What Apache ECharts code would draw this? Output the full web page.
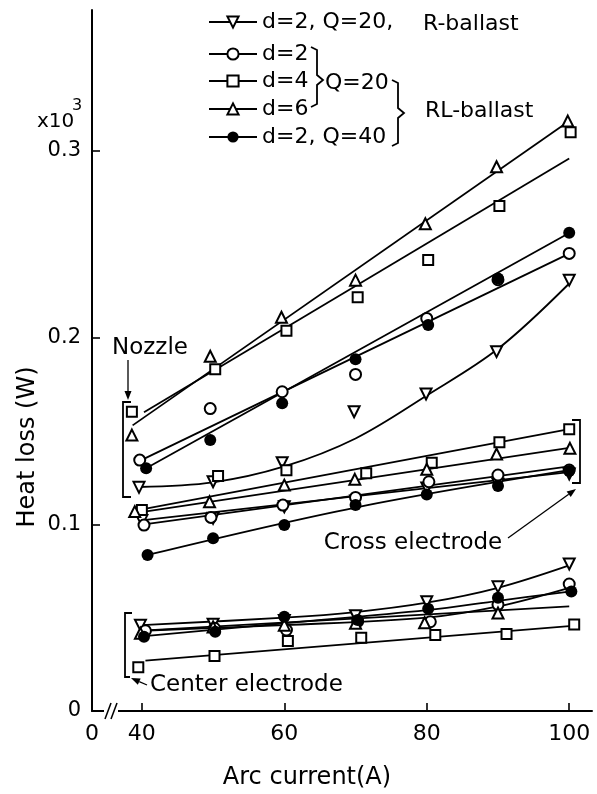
<!DOCTYPE html>
<html>
<head>
<meta charset="utf-8">
<script src="https://cdn.jsdelivr.net/npm/echarts@6/dist/echarts.min.js"></script>
<style>
html,body{margin:0;padding:0;background:#fff;}
#chart{width:597px;height:794px;}
</style>
</head>
<body>
<div id="chart"></div>
<script>
/* tick labels */
const xTickValues = [40, 60, 80, 100];
const yTickValues = [0.1, 0.2, 0.3];

/* Nozzle -- measured points */
const nozR2x = [39.6, 50, 59.7, 69.8, 79.9, 89.8, 100];
const nozR2y = [0.1198, 0.1228, 0.133, 0.1603, 0.1698, 0.1925, 0.2308];
const nozL2x = [39.7, 49.6, 59.7, 70, 80, 90, 100];
const nozL2y = [0.1344, 0.162, 0.171, 0.1803, 0.2103, 0.231, 0.2451];
const nozL4x = [38.6, 50.3, 60.3, 70.3, 80.2, 90.2, 100.2];
const nozL4y = [0.1603, 0.183, 0.2037, 0.2216, 0.2416, 0.2705, 0.310];
const nozL6x = [38.6, 49.6, 59.6, 70, 79.8, 89.8, 99.8];
const nozL6y = [0.1478, 0.190, 0.2109, 0.2308, 0.261, 0.2915, 0.316];
const nozQ40x = [40.6, 49.6, 59.7, 70, 80.2, 90, 100];
const nozQ40y = [0.130, 0.1452, 0.1648, 0.1884, 0.2068, 0.2317, 0.2562];

/* Nozzle -- fitted curves */
const nozR2fitX = [39.6, 50, 60, 70, 80, 90, 100];
const nozR2fitY = [0.120, 0.1225, 0.131, 0.146, 0.169, 0.194, 0.229];
const nozL2fitX = [39.7, 100];
const nozL2fitY = [0.134, 0.245];
const nozL4fitX = [40.3, 100];
const nozL4fitY = [0.160, 0.296];
const nozL6fitX = [38.7, 100];
const nozL6fitY = [0.153, 0.316];
const nozQ40fitX = [40.6, 100];
const nozQ40fitY = [0.130, 0.256];

/* Cross electrode -- measured points */
const crsR2x = [40, 50, 60, 70, 80, 90, 100];
const crsR2y = [0.102, 0.1032, 0.1094, 0.1125, 0.1195, 0.1215, 0.127];
const crsL2x = [40.3, 49.7, 59.8, 70, 80.3, 90, 100];
const crsL2y = [0.0996, 0.1037, 0.1103, 0.1144, 0.1228, 0.1264, 0.1291];
const crsL4x = [40, 50.7, 60.3, 71.5, 80.7, 90.2, 100];
const crsL4y = [0.1077, 0.1259, 0.129, 0.1273, 0.133, 0.1439, 0.1509];
const crsL6x = [39, 49.5, 60, 69.9, 80, 89.8, 100.1];
const crsL6y = [0.1068, 0.1121, 0.121, 0.1241, 0.1295, 0.1377, 0.1407];
const crsQ40x = [40.8, 50, 60, 70, 80, 90, 100];
const crsQ40y = [0.0836, 0.0925, 0.0996, 0.1103, 0.116, 0.1205, 0.1285];

/* Cross electrode -- fitted lines */
const crsR2fitX = [39.6, 100];
const crsR2fitY = [0.102, 0.128];
const crsL2fitX = [40.3, 100];
const crsL2fitY = [0.100, 0.131];
const crsL4fitX = [40, 100];
const crsL4fitY = [0.108, 0.151];
const crsL6fitX = [39, 100];
const crsL6fitY = [0.106, 0.141];
const crsQ40fitX = [40.8, 70, 100];
const crsQ40fitY = [0.0836, 0.109, 0.129];

/* Center electrode -- measured points */
const cenR2x = [39.8, 50, 60, 70, 80, 90, 100];
const cenR2y = [0.046, 0.0465, 0.0485, 0.051, 0.0585, 0.0665, 0.0788];
const cenL2x = [40.5, 50.2, 60.3, 70.3, 80.5, 90, 100];
const cenL2y = [0.043, 0.0443, 0.0434, 0.048, 0.0478, 0.057, 0.068];
const cenL4x = [39.5, 50.2, 60.5, 70.8, 81.2, 91.2, 100.7];
const cenL4y = [0.0234, 0.0295, 0.0375, 0.0393, 0.0407, 0.0412, 0.0464];
const cenL6x = [39.8, 50, 60, 70, 79.7, 90];
const cenL6y = [0.0416, 0.045, 0.046, 0.047, 0.0473, 0.0525];
const cenQ40x = [40.3, 50.3, 60, 70.3, 80.2, 90, 100.3];
const cenQ40y = [0.0398, 0.0425, 0.0505, 0.0487, 0.0548, 0.0607, 0.064];

/* Center electrode -- fitted curves */
const cenR2fitX = [40, 60, 70, 80, 90, 100];
const cenR2fitY = [0.046, 0.050, 0.053, 0.058, 0.066, 0.078];
const cenL2fitX = [40, 60, 80, 90, 100];
const cenL2fitY = [0.043, 0.046, 0.050, 0.056, 0.066];
const cenL4fitX = [40.5, 100];
const cenL4fitY = [0.027, 0.0455];
const cenL6fitX = [40, 100];
const cenL6fitY = [0.043, 0.056];
const cenQ40fitX = [40, 60, 80, 90, 100];
const cenQ40fitY = [0.040, 0.047, 0.054, 0.059, 0.064];

const FONT = 'DejaVu Sans';
const INK = '#000';

const groups = [
  {name: 'R2', label: 'd=2, Q=20,', symbol: 'emptyTriangle', rot: 180, size: 11},
  {name: 'L2', label: 'd=2', symbol: 'emptyCircle', rot: 0, size: 11},
  {name: 'L4', label: 'd=4', symbol: 'emptyRect', rot: 0, size: 10},
  {name: 'L6', label: 'd=6', symbol: 'emptyTriangle', rot: 0, size: 11},
  {name: 'Q40', label: 'd=2, Q=40', symbol: 'circle', rot: 0, size: 12}
];
const legendRows = [24, 56, 83, 111, 139];

const pts = (xs, ys) => xs.map((x, i) => [x, ys[i]]);

const fitSets = {
  R2:  [[nozR2fitX, nozR2fitY, true], [crsR2fitX, crsR2fitY, false], [cenR2fitX, cenR2fitY, true]],
  L2:  [[nozL2fitX, nozL2fitY, false], [crsL2fitX, crsL2fitY, false], [cenL2fitX, cenL2fitY, true]],
  L4:  [[nozL4fitX, nozL4fitY, false], [crsL4fitX, crsL4fitY, false], [cenL4fitX, cenL4fitY, false]],
  L6:  [[nozL6fitX, nozL6fitY, false], [crsL6fitX, crsL6fitY, false], [cenL6fitX, cenL6fitY, false]],
  Q40: [[nozQ40fitX, nozQ40fitY, false], [crsQ40fitX, crsQ40fitY, true], [cenQ40fitX, cenQ40fitY, true]]
};
const dotSets = {
  R2:  [[nozR2x, nozR2y], [crsR2x, crsR2y], [cenR2x, cenR2y]],
  L2:  [[nozL2x, nozL2y], [crsL2x, crsL2y], [cenL2x, cenL2y]],
  L4:  [[nozL4x, nozL4y], [crsL4x, crsL4y], [cenL4x, cenL4y]],
  L6:  [[nozL6x, nozL6y], [crsL6x, crsL6y], [cenL6x, cenL6y]],
  Q40: [[nozQ40x, nozQ40y], [crsQ40x, crsQ40y], [cenQ40x, cenQ40y]]
};

const series = [];
// lines first, so the legend icon is taken from a line series
groups.forEach(g => {
  fitSets[g.name].forEach(([xs, ys, smooth]) => {
    series.push({
      type: 'line', name: g.name, data: pts(xs, ys),
      symbol: g.symbol, symbolRotate: g.rot, symbolSize: g.size,
      showSymbol: false, smooth: smooth ? 0.35 : false,
      lineStyle: {color: INK, width: 1.8}, itemStyle: {color: INK, opacity: 1},
      silent: true, z: 2
    });
  });
});
groups.forEach(g => {
  dotSets[g.name].forEach(([xs, ys]) => {
    series.push({
      type: 'scatter', name: g.name, data: pts(xs, ys),
      symbol: g.symbol, symbolRotate: g.rot, symbolSize: g.size,
      itemStyle: {color: INK, opacity: 1, borderWidth: 1.6},
      silent: true, z: 3
    });
  });
});

const legends = groups.map((g, i) => ({
  data: [g.name], left: 208, top: legendRows[i] - 13, padding: 0,
  itemWidth: 48, itemHeight: 14, selectedMode: false,
  formatter: () => g.label,
  textStyle: {fontFamily: FONT, fontSize: 22, color: INK}
}));

function txt(x, y, text, size, align, extra) {
  return Object.assign({
    type: 'text', x: x, y: y, z: 100, silent: true,
    style: {text: text, x: 0, y: 0, fill: INK, fontFamily: FONT, fontSize: size,
            textAlign: align || 'left', align: align || 'left',
            textVerticalAlign: 'middle', verticalAlign: 'middle'}
  }, extra || {});
}
function poly(points, w) {
  return {type: 'polyline', z: 100, silent: true, shape: {points: points},
          style: {stroke: INK, lineWidth: w || 1.8, fill: null}};
}
function arrow(x1, y1, x2, y2) {
  const a = Math.atan2(y2 - y1, x2 - x1), L = 9, W = 3.5;
  const bx = x2 - L * Math.cos(a), by = y2 - L * Math.sin(a);
  return [
    poly([[x1, y1], [bx, by]], 1.3),
    {type: 'polygon', z: 100, silent: true,
     shape: {points: [[x2, y2], [bx + W * Math.sin(a), by - W * Math.cos(a)], [bx - W * Math.sin(a), by + W * Math.cos(a)]]},
     style: {fill: INK}}
  ];
}

const graphics = [
  txt(423, 24, 'R-ballast', 22),
  txt(325, 83, 'Q=20', 22),
  txt(425, 111, 'RL-ballast', 22),
  poly([[311, 47], [317, 50], [317, 75], [323, 80], [317, 85], [317, 104], [311, 107]]),
  poly([[392, 80], [398, 83], [398, 108], [404, 113], [398, 118], [398, 143], [392, 146]]),
  txt(37, 122, 'x10', 20),
  txt(72, 106, '3', 16),
  txt(112, 348, 'Nozzle', 23),
  ...arrow(128, 360, 128, 400),
  poly([[131, 402], [123, 402], [123, 497], [131, 497]]),
  txt(413, 543, 'Cross electrode', 23, 'center'),
  ...arrow(508, 538, 576, 489),
  poly([[572, 420], [580, 420], [580, 483], [572, 483]]),
  txt(150, 685, 'Center electrode', 23),
  poly([[132, 613], [125, 613], [125, 677], [130, 677]]),
  ...arrow(147, 685, 131, 678),
  // axis break
  {type: 'rect', z: 100, silent: true, shape: {x: 104, y: 706, width: 14, height: 10}, style: {fill: '#fff'}},
  poly([[105, 719], [111, 703]], 1.6),
  poly([[111, 719], [117, 703]], 1.6),
  txt(28, 447, 'Heat loss (W)', 24, 'center', {rotation: Math.PI / 2}),
  txt(307, 778, 'Arc current(A)', 24, 'center')
];

const chart = echarts.init(document.getElementById('chart'), null, {renderer: 'canvas'});
chart.setOption({
  animation: false,
  backgroundColor: '#fff',
  grid: {left: 92, right: 5, top: 10, bottom: 83, containLabel: false, outerBoundsMode: 'none'},
  xAxis: {
    type: 'value', min: 33, max: 103.2,
    axisLine: {lineStyle: {color: INK, width: 2}},
    axisTick: {inside: true, length: 8, customValues: xTickValues, lineStyle: {color: INK, width: 1.6}},
    axisLabel: {customValues: [33].concat(xTickValues), margin: 12, color: INK, fontFamily: FONT, fontSize: 22,
                formatter: v => (v < 35 ? '0' : String(v))},
    splitLine: {show: false}
  },
  yAxis: {
    type: 'value', min: 0, max: 0.3755,
    axisLine: {show: true, lineStyle: {color: INK, width: 2}},
    axisTick: {show: true, inside: true, length: 8, customValues: yTickValues, lineStyle: {color: INK, width: 1.6}},
    axisLabel: {customValues: [0].concat(yTickValues), margin: 11, color: INK, fontFamily: FONT, fontSize: 21,
                formatter: v => (v === 0 ? '0' : v.toFixed(1))},
    splitLine: {show: false}
  },
  legend: legends,
  series: series,
  graphic: {elements: graphics}
});
</script>
</body>
</html>
